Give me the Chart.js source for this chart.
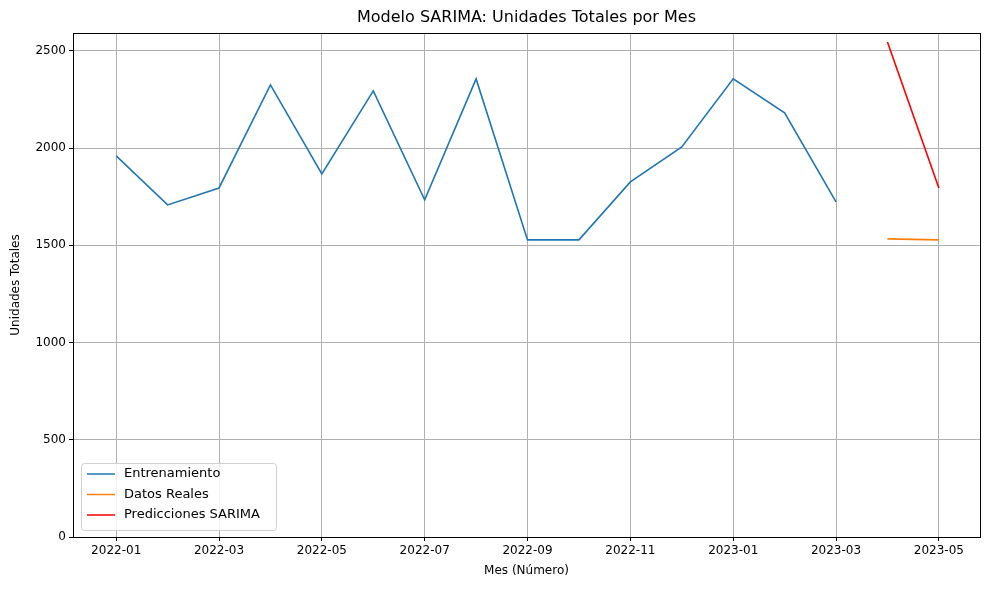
<!DOCTYPE html>
<html>
<head>
<meta charset="utf-8">
<script src="https://cdn.jsdelivr.net/npm/chart.js@4/dist/chart.umd.min.js"></script>
<style>
  body { margin: 0; background: #fff; }
</style>
</head>
<body>
<canvas id="chart" width="989" height="590"></canvas>
<script>
// Month labels (ticks every 2 months)
const monthLabels = ['2022-01','2022-02','2022-03','2022-04','2022-05','2022-06','2022-07','2022-08',
                     '2022-09','2022-10','2022-11','2022-12','2023-01','2023-02','2023-03','2023-04','2023-05'];
const trainValues = [1960, 1708, 1795, 2325, 1867, 2294, 1734, 2356, 1528, 1528, 1826, 2006, 2356, 2181, 1723];
const realValues = [1533, 1528];
const predValues = [2546, 1795];
const seriesNames = ['Entrenamiento', 'Datos Reales', 'Predicciones SARIMA'];
const seriesColors = ['#1f77b4', '#ff7f0e', '#ff0000'];

const toPoints = (vals, start) => vals.map((v, i) => ({ x: start + i, y: v }));

const font = 'DejaVu Sans';

// Title, axis titles, frame and legend box in matplotlib style
const mplDecor = {
    id: 'mplDecor',
    afterDraw(chart) {
        const ctx = chart.ctx;
        const a = chart.chartArea;
        ctx.save();
        ctx.strokeStyle = '#000';
        ctx.lineWidth = 1;
        ctx.strokeRect(Math.round(a.left) + 0.5, Math.round(a.top) + 0.5,
                       Math.round(a.right - a.left), Math.round(a.bottom - a.top));

        ctx.fillStyle = '#000';
        ctx.textAlign = 'center';
        ctx.textBaseline = 'middle';
        ctx.font = '16px "' + font + '"';
        ctx.fillText('Modelo SARIMA: Unidades Totales por Mes', (a.left + a.right) / 2, 18);
        ctx.font = '12px "' + font + '"';
        ctx.fillText('Mes (Número)', (a.left + a.right) / 2, 571);
        ctx.translate(16, (a.top + a.bottom) / 2);
        ctx.rotate(-Math.PI / 2);
        ctx.fillText('Unidades Totales', 0, 0);
        ctx.restore();

        ctx.save();
        const bx = a.left + 8, by = a.bottom - 74, bw = 195, bh = 67;
        ctx.fillStyle = 'rgba(255,255,255,0.8)';
        ctx.strokeStyle = '#d0d0d0';
        ctx.lineWidth = 1;
        ctx.beginPath();
        ctx.roundRect(bx + 0.5, by + 0.5, bw, bh, 3);
        ctx.fill();
        ctx.stroke();
        ctx.font = '13px "' + font + '"';
        ctx.textAlign = 'left';
        ctx.textBaseline = 'middle';
        seriesNames.forEach((name, i) => {
            const y = by + 11 + i * 20.5;
            ctx.strokeStyle = seriesColors[i];
            ctx.lineWidth = 1.5;
            ctx.beginPath();
            ctx.moveTo(bx + 6, y);
            ctx.lineTo(bx + 34, y);
            ctx.stroke();
            ctx.fillStyle = '#000';
            ctx.fillText(name, bx + 43, y);
        });
        ctx.restore();
    }
};

new Chart(document.getElementById('chart'), {
    type: 'line',
    data: {
        datasets: [
            { label: seriesNames[0], data: toPoints(trainValues, 0), borderColor: seriesColors[0] },
            { label: seriesNames[1], data: toPoints(realValues, 15), borderColor: seriesColors[1] },
            { label: seriesNames[2], data: toPoints(predValues, 15), borderColor: seriesColors[2] }
        ]
    },
    options: {
        responsive: false,
        animation: false,
        layout: { padding: { top: 33, right: 9, left: 0, bottom: 0 } },
        elements: {
            point: { radius: 0 },
            line: { borderWidth: 1.6, tension: 0 }
        },
        plugins: { legend: { display: false }, tooltip: { enabled: false } },
        scales: {
            x: {
                type: 'linear',
                min: -0.84,
                max: 16.8,
                afterBuildTicks(scale) {
                    scale.ticks = [];
                    for (let i = 0; i < monthLabels.length; i += 2) scale.ticks.push({ value: i });
                },
                afterFit(scale) { scale.height = 53; },
                ticks: {
                    color: '#000',
                    font: { family: font, size: 12 },
                    maxRotation: 0,
                    callback: v => monthLabels[v]
                },
                grid: { color: '#b0b0b0', tickColor: '#000', tickLength: 4 },
                border: { color: '#000' }
            },
            y: {
                min: 0,
                max: 2592,
                afterBuildTicks(scale) {
                    scale.ticks = [0, 500, 1000, 1500, 2000, 2500].map(v => ({ value: v }));
                },
                afterFit(scale) { scale.width = 73; },
                ticks: { color: '#000', font: { family: font, size: 12 }, callback: v => String(v) },
                grid: { color: '#b0b0b0', tickColor: '#000', tickLength: 4 },
                border: { color: '#000' }
            }
        }
    },
    plugins: [mplDecor]
});
</script>
</body>
</html>
